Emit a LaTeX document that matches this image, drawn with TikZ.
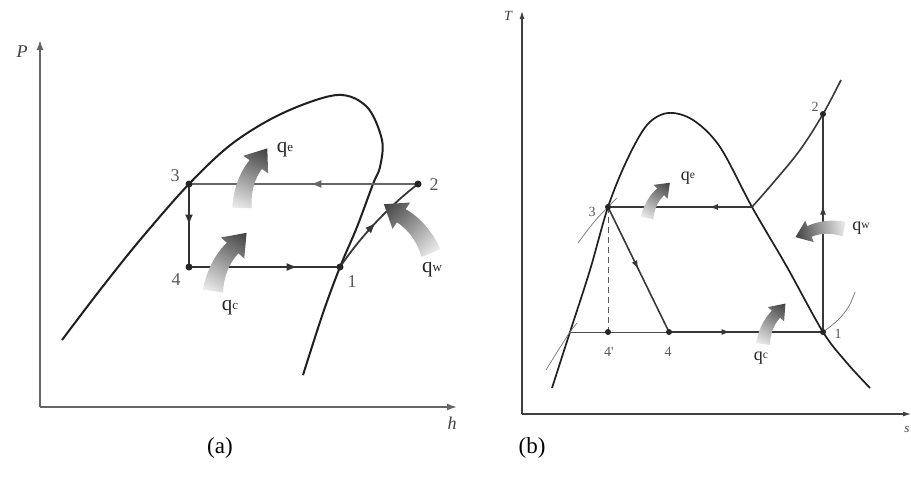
\documentclass[tikz,border=0pt]{standalone}
\usepackage{fontspec}
\setmainfont{Liberation Serif}
\newfontfamily\tnr{Liberation Serif}
\usetikzlibrary{decorations.markings,arrows.meta}
\tikzset{
  curvea/.style={line width=2pt, black!88},
  curveb/.style={line width=1.7pt, black!88},
  cyca/.style={line width=2.1pt, black!80},
  cycb/.style={line width=1.6pt, black!78},
  thinl/.style={line width=0.7pt, black!55},
  axisa/.style={line width=1.6pt, black!60, -{Latex[length=10pt,width=7pt]}},
  axisb/.style={line width=1.1pt, black!75, -{Latex[length=8pt,width=5pt]}},
  dota/.style={circle, fill=black!85, inner sep=0pt, minimum size=7pt},
  dotb/.style={circle, fill=black!85, inner sep=0pt, minimum size=6pt},
  numa/.style={font=\tnr\fontsize{18}{18}\selectfont, text=black!65, inner sep=1pt},
  numb/.style={font=\tnr\fontsize{14}{14}\selectfont, text=black!65, inner sep=1pt},
  qla/.style={font=\tnr\fontsize{21}{21}\selectfont, text=black!85, inner sep=1pt},
  qlb/.style={font=\tnr\fontsize{18}{18}\selectfont, text=black!85, inner sep=1pt},
  axl/.style={font=\tnr\fontsize{18}{18}\selectfont\itshape, text=black!75, inner sep=1pt},
  captxt/.style={font=\tnr\fontsize{23}{23}\selectfont, text=black, inner sep=1pt},
  midarrow/.style={postaction={decorate}, decoration={markings, mark=at position #1 with {\arrow{Latex[length=11pt,width=8pt]}}}},
  midarrowb/.style={postaction={decorate}, decoration={markings, mark=at position #1 with {\arrow{Latex[length=9pt,width=6pt]}}}},
}
% gradient curved arrow: tail x, tail y, chord angle, scale, mirror (1 or -1)
\newcommand\gradarrow[5]{%
  \begin{scope}[transform canvas={shift={(#1,#2)}, rotate=#3, scale=#4, yscale=#5}]
    \shade[left color=black!6, right color=black!75]
      (-3.3pt,8.4pt) .. controls (12pt,14pt) and (30pt,15pt) .. (43.5pt,10.8pt)
      -- (45pt,17.7pt) -- (60pt,0pt) -- (39pt,-9.7pt) -- (40.5pt,-2.8pt)
      .. controls (28pt,0pt) and (16pt,-2pt) .. (3.3pt,-8.4pt) -- cycle;
  \end{scope}}
\newcommand\qsa[1]{q\raisebox{1.8pt}{\fontsize{13}{13}\selectfont #1}}
\newcommand\qsb[1]{q\raisebox{1.5pt}{\fontsize{11.5}{11.5}\selectfont #1}}
\begin{document}
\begin{tikzpicture}[x=1pt,y=-1pt]
\useasboundingbox (0,0) rectangle (911,483);
\fill[white] (0,0) rectangle (911,483);
% ================= (a) P-h =================
\coordinate (aO) at (40,407);
\coordinate (aPt) at (40,40);
\coordinate (aHt) at (457,407);
\draw[axisa] (aO) -- (aPt);
\draw[axisa] (aO) -- (aHt);
\node[axl] (lP) at (22,52) {P};
\node[axl] (lh) at (452,423) {h};
\draw[curvea] plot[smooth, tension=0.55] coordinates {(62,340) (100,290) (140,240) (189,184) (233,143) (283,113) (337,95) (367,107) (382,140) (380,167) (373,184) (357,227) (340,267) (323,313) (303,375)};
\coordinate (a1) at (340,267);
\coordinate (a2) at (418,184);
\coordinate (a3) at (189,184);
\coordinate (a4) at (189,267);
\draw[line width=2.5pt, black!60, midarrow=0.47] (a2) -- (a3);
\draw[cyca, midarrow=0.5] (a3) -- (a4);
\draw[cyca, midarrow=0.72] (a4) -- (a1);
\draw[line width=1.8pt, black!78, midarrow=0.5] (a1) .. controls (363,233) and (393,203) .. (a2);
\node[dota] (d1) at (a1) {};
\node[dota] (d2) at (a2) {};
\node[dota] (d3) at (a3) {};
\node[dota] (d4) at (a4) {};
\node[numa] (n3) at (175,176) {3};
\node[numa] (n2) at (434,185) {2};
\node[numa] (n4) at (176,280) {4};
\node[numa] (n1) at (352,282) {1};
\gradarrow{242}{208}{67}{1.08}{1}
\gradarrow{213}{291}{60}{1.12}{1}
\gradarrow{431}{253}{134}{1.13}{-1}
\node[qla] (qea) at (285,150) {\qsa{e}};
\node[qla] (qca) at (230,308) {\qsa{c}};
\node[qla] (qwa) at (432,270) {\qsa{w}};
% ================= (b) T-s =================
\coordinate (bO) at (522,414);
\coordinate (bTt) at (522,11);
\coordinate (bSt) at (911,414);
\draw[axisb] (bO) -- (bTt);
\draw[axisb] (bO) -- (bSt);
\node[axl, font=\tnr\fontsize{14}{14}\selectfont\itshape] (lT) at (508,16) {T};
\node[axl, font=\tnr\fontsize{13}{13}\selectfont\itshape] (ls) at (907,429) {s};
\draw[curveb] plot[smooth, tension=0.55] coordinates {(552,388) (570,332) (590,270) (608,207) (627,160) (647,125) (668,113) (693,120) (720,147) (752,207) (787,267) (823,332) (847,363) (870,388)};
\coordinate (b1) at (823,332);
\coordinate (b2) at (823,114);
\coordinate (b3) at (608,207);
\coordinate (b4) at (669,332);
\coordinate (b4p) at (608,332);
\coordinate (bx) at (752,207);
\coordinate (bl) at (570,332);
\draw[cycb] plot[smooth, tension=0.6] coordinates {(752,207) (773,183) (800,150) (823,114) (841,80)};
\draw[thinl] plot[smooth, tension=0.6] coordinates {(578,243) (594,222) (608,207) (617,198)};
\draw[thinl] plot[smooth, tension=0.6] coordinates {(546,370) (559,349) (570,332) (577,323)};
\draw[thinl] plot[smooth, tension=0.6] coordinates {(823,332) (838,320) (849,306) (855,292)};
\draw[cycb, midarrowb=0.3] (bx) -- (b3);
\draw[cycb, midarrowb=0.5] (b3) -- (b4);
\draw[line width=1pt, black!70] (bl) -- (b4);
\draw[cycb, midarrowb=0.4] (b4) -- (b1);
\draw[cycb, midarrowb=0.58] (b1) -- (b2);
\draw[line width=0.9pt, black!65, dash pattern=on 6pt off 4pt] (b3) -- (b4p);
\node[dotb] (e1) at (b1) {};
\node[dotb] (e2) at (b2) {};
\node[dotb] (e3) at (b3) {};
\node[dotb] (e4) at (b4) {};
\node[dotb] (e4p) at (b4p) {};
\node[numb] (m3) at (592,212) {3};
\node[numb] (m2) at (815,107) {2};
\node[numb] (m1) at (838,334) {1};
\node[numb] (m4p) at (609,352) {4'};
\node[numb] (m4) at (668,352) {4};
\gradarrow{647}{218}{57}{0.7}{1}
\gradarrow{763}{344}{61}{0.77}{1}
\gradarrow{844}{229}{189.5}{0.82}{-1}
\node[qlb] (qeb) at (688,178) {\qsb{e}};
\node[qlb] (qwb) at (861,228) {\qsb{w}};
\node[qlb] (qcb) at (761,358) {\qsb{c}};
% captions
\node[captxt] (capa) at (220,448) {(a)};
\node[captxt] (capb) at (532,448) {(b)};
\end{tikzpicture}
\end{document}
